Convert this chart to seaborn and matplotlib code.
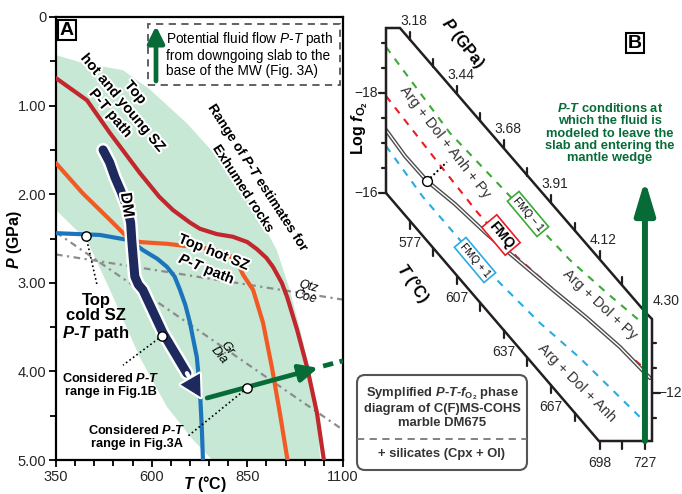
import matplotlib
matplotlib.use("Agg")
import numpy as np
import matplotlib.pyplot as plt
import matplotlib.patheffects as pe
from matplotlib import font_manager
from matplotlib.patches import Rectangle, FancyBboxPatch
from matplotlib.lines import Line2D
import seaborn as sns

sns.set_theme(style="white")


def first_font(names):
    for name in names:
        try:
            font_manager.findfont(font_manager.FontProperties(family=name), fallback_to_default=False)
            return name
        except ValueError:
            continue
    return "DejaVu Sans"


FONT = first_font(["Liberation Sans Narrow", "Liberation Sans"])
plt.rcParams["font.family"] = [FONT, "DejaVu Sans"]
plt.rcParams.update({
    "mathtext.fontset": "custom",
    "mathtext.rm": FONT + ":bold",
    "mathtext.it": FONT + ":italic:bold",
    "mathtext.bf": FONT + ":bold",
    "mathtext.sf": FONT + ":italic",
})

# ---------------- panel A data (T in degC, P in GPa) ----------------
red_T = [350, 431, 491, 569, 620, 656, 700, 726, 770, 812, 850, 875, 900, 917, 940, 954, 980, 1006, 1032, 1050]
red_P = [0.69, 0.94, 1.31, 1.76, 2.03, 2.18, 2.32, 2.39, 2.45, 2.48, 2.54, 2.62, 2.72, 2.82, 3.0, 3.16, 3.53, 3.95, 4.47, 5.0]

orange_T = [350, 420, 491, 535, 569, 640, 760, 800, 825, 839, 865, 891, 914, 935, 955]
orange_P = [1.65, 1.99, 2.29, 2.48, 2.54, 2.56, 2.62, 2.68, 2.78, 2.91, 3.08, 3.45, 3.95, 4.47, 5.0]

blue_T = [350, 465, 543, 577, 615, 640, 660, 674, 688, 700, 718, 726, 731, 734]
blue_P = [2.44, 2.46, 2.52, 2.63, 2.73, 2.82, 2.93, 3.08, 3.25, 3.45, 3.84, 4.21, 4.63, 5.0]

dm_T = [473, 490, 504, 520, 535, 545, 548, 552, 556, 565, 577, 630, 692]
dm_P = [1.50, 1.64, 1.81, 1.97, 2.14, 2.32, 2.52, 2.73, 2.93, 3.02, 3.08, 3.57, 4.02]
dm_tip = (728, 4.29)

fluid_T = [745, 1035]
fluid_P = [4.30, 3.96]
fluid_ext_T = [1048, 1100]
fluid_ext_P = [3.94, 3.88]

qtz_coe_T = [350, 1100]
qtz_coe_P = [2.68, 3.19]
gr_dia_T = [350, 1100]
gr_dia_P = [2.43, 4.66]

exhumed_T = [350, 420, 525, 596, 692, 778, 831, 875, 927, 961, 995, 1019, 1035, 1040,
             758, 708, 640, 569, 491, 431, 350]
exhumed_P = [0.43, 0.52, 0.60, 0.82, 1.20, 1.61, 1.87, 2.21, 2.63, 3.08, 3.65, 4.10, 4.55, 5.0,
             5.0, 4.77, 4.40, 3.84, 3.08, 2.52, 2.18]

marker_T = [428, 627, 849]
marker_P = [2.47, 3.60, 4.19]
leader_T = [457, 525, 692]
leader_P = [3.02, 3.93, 4.74]

# ---------------- panel B data (T in degC, log fO2) ----------------
T_major = [577, 607, 637, 667, 698, 727]
P_major = [3.18, 3.44, 3.68, 3.91, 4.12, 4.30]

frame_T = [561.7, 561.7, 570.6, 727.7, 731.5, 731.5, 697.6, 561.7]
frame_lfo = [-16.0, -19.3, -19.3, -13.6, -13.48, -11.04, -11.04, -16.0]

fmq_m1_T = [561.7, 602.5, 638.9, 679.1, 702.7, 728.3]
fmq_m1 = [-18.92, -17.2, -16.0, -14.66, -14.0, -13.32]
fmq_T = [561.7, 596.1, 620.4, 645.3, 685.5, 725.7]
fmq = [-17.94, -16.56, -15.6, -14.72, -13.6, -12.52]
fmq_p1_T = [561.7, 585.3, 608.9, 634.4, 660.0, 685.5, 725.7]
fmq_p1 = [-16.94, -15.92, -15.06, -14.2, -13.4, -12.7, -11.46]
anh_T = [561.7, 573.8, 587.9, 605.7, 626.1, 647.2, 668.3, 690.0, 711.0, 730.2]
anh = [-17.26, -16.74, -16.24, -15.78, -15.18, -14.62, -14.06, -13.5, -12.92, -12.30]
anh_point = (587.9, -16.24)
anh_leader = (600.6, -16.62)
exit_T = 727
exit_lfo = [-11.04, -16.26]

RED = "#c1272d"
ORANGE = "#f15a24"
BLUE = "#1c75bc"
NAVY = "#1e2a5e"
GREEN = "#076b38"
MINT = "#c6e8d4"
GRAY = "#8c8c8c"
INK = "#231f20"
G_DASH = "#3aaa35"
R_DASH = "#ed1c24"
B_DASH = "#29abe2"

W, H = 682, 494
fig = plt.figure(figsize=(W / 100, H / 100), dpi=100)
fig.patch.set_facecolor("white")


def px(x, y):
    return x / 100, (H - y) / 100


def label(x, y, s, size, rot=0, weight="normal", style="normal", color="black", halo=0, **kw):
    ha = kw.pop("ha", "center")
    va = kw.pop("va", "center")
    t = fig.text(*px(x, y), s, transform=fig.dpi_scale_trans, fontsize=size, rotation=rot,
                 rotation_mode="anchor", ha=ha, va=va, fontweight=weight, fontstyle=style,
                 color=color, **kw)
    if halo:
        t.set_path_effects([pe.withStroke(linewidth=halo, foreground="white")])
    return t


# ================= panel A =================
axA = fig.add_axes([56 / W, 1 - 460 / H, 287 / W, 443 / H])
axA.fill(exhumed_T, exhumed_P, color=MINT, lw=0, zorder=1)

dashdot = (0, (3, 2, 1, 2))
sns.lineplot(x=qtz_coe_T, y=qtz_coe_P, ax=axA, color=GRAY, lw=1.6, ls=dashdot, estimator=None, zorder=2)
sns.lineplot(x=gr_dia_T, y=gr_dia_P, ax=axA, color=GRAY, lw=1.6, ls=dashdot, estimator=None, zorder=2)

for xs, ys, c in [(red_T, red_P, RED), (orange_T, orange_P, ORANGE), (blue_T, blue_P, BLUE)]:
    sns.lineplot(x=xs, y=ys, ax=axA, color=c, lw=3.0, sort=False, estimator=None, zorder=3,
                 solid_joinstyle="round")

halo_w = [pe.Stroke(linewidth=10, foreground="white"), pe.Normal()]
sns.lineplot(x=dm_T, y=dm_P, ax=axA, color=NAVY, lw=6.5, sort=False, estimator=None, zorder=5,
             path_effects=halo_w, solid_capstyle="round", solid_joinstyle="round")
axA.annotate("", xy=dm_tip, xytext=(dm_T[-1], dm_P[-1]),
             arrowprops=dict(arrowstyle="-|>,head_length=1.5,head_width=0.8", mutation_scale=10,
                             lw=0, color=NAVY, shrinkA=0, shrinkB=0,
                             path_effects=[pe.withStroke(linewidth=3, foreground="white")]),
             zorder=5)

axA.annotate("", xy=(fluid_T[1], fluid_P[1]), xytext=(fluid_T[0], fluid_P[0]),
             arrowprops=dict(arrowstyle="-|>,head_length=0.55,head_width=0.26", mutation_scale=20,
                             lw=3.4, color=GREEN, shrinkA=0, shrinkB=0), zorder=6)
sns.lineplot(x=fluid_ext_T, y=fluid_ext_P, ax=axA, color=GREEN, lw=3.4, ls=(0, (2.2, 1.4)),
             estimator=None, zorder=6)

for t0, p0, t1, p1 in zip(marker_T, marker_P, leader_T, leader_P):
    axA.plot([t0, t1], [p0, p1], color="black", lw=1.2, ls=(0, (1, 1.6)), zorder=4)
sns.scatterplot(x=marker_T, y=marker_P, ax=axA, s=45, color="white", edgecolor="black",
                linewidth=1.0, zorder=7)

axA.set_xlim(350, 1100)
axA.set_ylim(5, 0)
axA.set_xticks([350, 600, 850, 1100])
axA.set_xticks(np.arange(350, 1101, 50), minor=True)
axA.set_yticks([0, 1, 2, 3, 4, 5])
axA.set_yticklabels(["0", "1.00", "2.00", "3.00", "4.00", "5.00"])
axA.set_yticks(np.arange(0, 5.01, 0.5), minor=True)
axA.tick_params(which="both", direction="out", bottom=True, left=True, color="black",
                width=1.3, labelsize=10.5, pad=2)
axA.tick_params(which="major", length=5)
axA.tick_params(which="minor", length=4)
for s in axA.spines.values():
    s.set_color("black")
    s.set_linewidth(1.6)
axA.set_xlabel("")
axA.set_ylabel("")

label(15, 240, "$P$ (GPa)", 11.5, rot=90, weight="bold")
label(205, 484, "$T$ (°C)", 11.5, weight="bold")
label(67, 30, "A", 14, weight="bold",
      bbox=dict(boxstyle="square,pad=0.1", fc="white", ec="black", lw=1.5))

fig.add_artist(Rectangle(px(148, 85), 192 / 100, 61 / 100, transform=fig.dpi_scale_trans,
                         fill=False, ec="#555555", lw=1.3, ls=(0, (4, 3))))
axA.annotate("", xy=px(156, 26), xytext=px(156, 81), xycoords=fig.dpi_scale_trans,
             textcoords=fig.dpi_scale_trans, annotation_clip=False,
             arrowprops=dict(arrowstyle="-|>,head_length=0.5,head_width=0.25", mutation_scale=20,
                             lw=3.4, color=GREEN, shrinkA=0, shrinkB=0))
label(166, 54, "Potential fluid flow $\\mathsf{P}$-$\\mathsf{T}$ path\nfrom downgoing slab to the\n"
      "base of the MW (Fig. 3A)", 9.8, ha="left", linespacing=1.12)

label(123, 103, "Top\nhot and young SZ\nP-T path", 10.5, rot=-50, weight="bold", halo=3)
label(252, 183, "Range of $P$-$T$ estimates for\nExhumed rocks", 9.8, rot=-57, weight="bold", halo=3)
label(127, 205, "DM", 11.5, rot=-82, weight="bold", halo=3)
label(210, 262, "Top hot SZ\n$P$-$T$ path", 10.5, rot=-22, weight="bold", halo=3)
label(307, 292, "Qtz\nCoe", 9, rot=-15, style="italic", linespacing=0.95)
label(223, 352, "Gr\nDia", 9, rot=-50, style="italic", linespacing=0.95)
label(96, 318, "Top\ncold SZ\n$P$-$T$ path", 12, weight="bold", linespacing=1.05)
label(111, 385, "Considered $P$-$T$\nrange in Fig.1B", 9.2, weight="bold", linespacing=1.1)
label(137, 437, "Considered $P$-$T$\nrange in Fig.3A", 9.2, weight="bold", linespacing=1.1)

# ================= panel B =================
axB = fig.add_axes([386 / W, 1 - 441 / H, 266 / W, 413 / H])
axB.set_xlim(frame_T[0], frame_T[4])
axB.set_ylim(frame_lfo[5], frame_lfo[1])
axB.axis("off")
T_pp = (frame_T[4] - frame_T[0]) / 266
L_pp = (frame_lfo[5] - frame_lfo[1]) / 413

dash = (0, (3.5, 3.5))
sns.lineplot(x=fmq_m1_T, y=fmq_m1, ax=axB, color=G_DASH, lw=1.5, ls=dash, estimator=None)
sns.lineplot(x=fmq_T, y=fmq, ax=axB, color=R_DASH, lw=1.5, ls=dash, estimator=None)
sns.lineplot(x=fmq_p1_T, y=fmq_p1, ax=axB, color=B_DASH, lw=1.5, ls=dash, estimator=None)
sns.lineplot(x=anh_T, y=anh, ax=axB, color="#4d4d4d", lw=3.0, estimator=None)
sns.lineplot(x=anh_T, y=anh, ax=axB, color="white", lw=1.0, estimator=None)
axB.plot([anh_point[0], anh_leader[0]], [anh_point[1], anh_leader[1]], color="black", lw=1.4,
         ls=(0, (1, 1.3)))
axB.scatter([anh_point[0]], [anh_point[1]], s=50, color="white", edgecolor="black", lw=1.0, zorder=6)

axB.plot(frame_T, frame_lfo, color=INK, lw=1.8, clip_on=False, solid_joinstyle="miter", zorder=4)

top_T, top_lfo = frame_T[2:4], frame_lfo[2:4]
bot_T, bot_lfo = frame_T[5:8][::-1], frame_lfo[5:8][::-1]
T_minor = [(a + b) / 2 for a, b in zip(T_major[:-1], T_major[1:])]
for t in T_major + T_minor:
    yt = np.interp(t, top_T, top_lfo)
    axB.plot([t, t], [yt, yt - 8 * L_pp], color=INK, lw=1.6, clip_on=False)
    yb = np.interp(t, bot_T, bot_lfo)
    axB.plot([t, t], [yb, yb + 8 * L_pp], color=INK, lw=1.6, clip_on=False)

for i, (t, p) in enumerate(zip(T_major, P_major)):
    yt = np.interp(t, top_T, top_lfo)
    off = (21, 11) if i == len(T_major) - 1 else (4, 19)
    axB.annotate(f"{p:.2f}", xy=(t, yt), xytext=off, textcoords="offset pixels",
                 ha="center", va="center", fontsize=10, annotation_clip=False)
    yb = np.interp(t, bot_T, bot_lfo)
    axB.annotate(f"{t}", xy=(t, yb), xytext=(0, -22), textcoords="offset pixels",
                 ha="center", va="center", fontsize=10, annotation_clip=False)

for v in np.arange(-19.0, -15.9, 0.5):
    ln = 7 if v in (-18.0, -16.0) else 4
    axB.plot([frame_T[0] - ln * T_pp, frame_T[0]], [v, v], color=INK, lw=1.6, clip_on=False)
for v in [-18, -16]:
    axB.annotate(f"\u2212{abs(v)}", xy=(frame_T[0], v), xytext=(-8, 0), textcoords="offset pixels",
                 ha="right", va="center", fontsize=10, annotation_clip=False)
for v in [-13.0, -12.5, -12.0, -11.5]:
    ln = 8 if v == -12.0 else 4
    axB.plot([frame_T[4], frame_T[4] + ln * T_pp], [v, v], color=INK, lw=1.6, clip_on=False)
axB.annotate("\u221212", xy=(frame_T[4], -12), xytext=(6, 0), textcoords="offset pixels",
             ha="left", va="center", fontsize=10, annotation_clip=False)

axB.annotate("", xy=(exit_T, exit_lfo[1]), xytext=(exit_T, exit_lfo[0]),
             arrowprops=dict(arrowstyle="-|>,head_length=1.0,head_width=0.3", mutation_scale=20,
                             lw=4.3, color=GREEN, shrinkA=0, shrinkB=0), annotation_clip=False, zorder=8)

label(635, 43, "B", 14, weight="bold",
      bbox=dict(boxstyle="square,pad=0.1", fc="white", ec="black", lw=1.5))
label(463, 43, "$P$ (GPa)", 11.5, rot=-52, weight="bold")
label(360, 128, "Log $f_{\\mathrm{O}_2}$", 11.5, rot=90, weight="bold")
label(413, 283, "$T$ (°C)", 11.5, rot=-55, weight="bold")
label(610, 133, "$P$-$T$ conditions at\nwhich the fluid is\nmodeled to leave the\n"
      "slab and entering the\nmantle wedge", 9.3, weight="bold", color=GREEN, linespacing=1.05)

label(445, 142, "Arg + Dol + Anh + Py", 10.5, rot=-52, color="#333333")
label(600, 305, "Arg + Dol + Py", 10.5, rot=-43, color="#333333")
label(577, 383, "Arg + Dol + Anh", 10.5, rot=-45, color="#333333")

label(528, 214, "FMQ \u2212 1", 7.5, rot=-50,
      bbox=dict(boxstyle="square,pad=0.25", fc="white", ec=G_DASH, lw=1.2))
label(501, 235, "FMQ", 10, rot=-50, weight="bold",
      bbox=dict(boxstyle="square,pad=0.2", fc="white", ec=R_DASH, lw=1.2))
label(475, 260, "FMQ + 1", 7.5, rot=-50,
      bbox=dict(boxstyle="square,pad=0.25", fc="white", ec=B_DASH, lw=1.2))

fig.add_artist(FancyBboxPatch(px(357, 470), 170 / 100, 95 / 100, transform=fig.dpi_scale_trans,
                              boxstyle="round,pad=0,rounding_size=0.08", fc="white", ec="#555555",
                              lw=1.5))
fig.add_artist(Line2D([3.57, 5.27], [(H - 439) / 100] * 2, transform=fig.dpi_scale_trans,
                      color="#777777", lw=1.3, ls=(0, (4, 3))))
label(442, 407, "Symplified $P$-$T$-$f_{\\mathrm{O}_2}$ phase\ndiagram of C(F)MS-COHS\nmarble DM675",
      9.4, weight="bold", color="#333333", linespacing=1.15)
label(442, 454, "+ silicates (Cpx + Ol)", 9.4, weight="bold", color="#333333")

fig.savefig("out.png", dpi=100, facecolor="white")
